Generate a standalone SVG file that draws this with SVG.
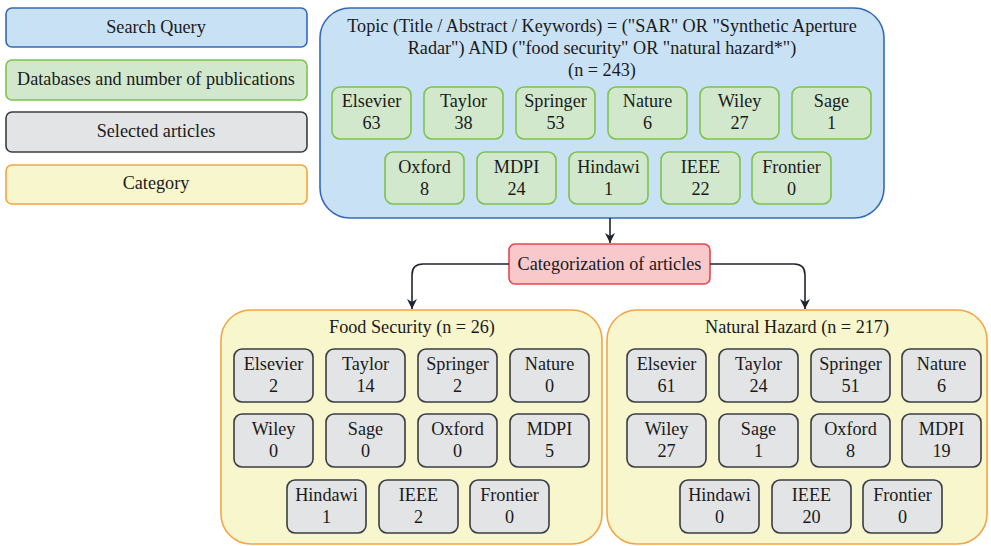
<svg xmlns="http://www.w3.org/2000/svg" width="991" height="546" viewBox="0 0 991 546">
<style>
text{font-family:'Liberation Serif','Times New Roman',serif;fill:#1a1a1a;text-anchor:middle;font-size:18.2px}
.q{fill:#c9e1f5;stroke:#3569b8;stroke-width:1.6}
.db{fill:#d2e8cd;stroke:#7ec24e;stroke-width:1.6}
.sel{fill:#e3e4e6;stroke:#3a3c41;stroke-width:1.6}
.cat{fill:#f8f6cd;stroke:#f4a443;stroke-width:1.6}
.red{fill:#f9c8ca;stroke:#e6464d;stroke-width:1.6}
.conn{fill:none;stroke:#1f2330;stroke-width:1.6}
</style>
<defs>
<marker id="arr" viewBox="0 0 10 10" refX="10" refY="5" markerWidth="10" markerHeight="10" orient="auto" markerUnits="userSpaceOnUse">
<path d="M0,0 L10,5 L0,10 L3,5 z" fill="#1f2330"/>
</marker>
</defs>
<rect width="991" height="546" fill="#ffffff"/>

<g id="legend">
<g id="legend-search"><rect class="q" x="6" y="8" width="301" height="39" rx="6"/><text x="156" y="33">Search Query</text></g>
<g id="legend-db"><rect class="db" x="6" y="60" width="301" height="40" rx="6"/><text x="156" y="85">Databases and number of publications</text></g>
<g id="legend-selected"><rect class="sel" x="6" y="112" width="301" height="40" rx="6"/><text x="156" y="137">Selected articles</text></g>
<g id="legend-category"><rect class="cat" x="6" y="165" width="301" height="39" rx="6"/><text x="156" y="189">Category</text></g>
</g>

<g id="search-query">
<rect class="q" x="320" y="8" width="564" height="210" rx="30"/>
<text x="602" y="32">Topic (Title / Abstract / Keywords) = ("SAR" OR "Synthetic Aperture</text>
<text x="602" y="54">Radar") AND ("food security" OR "natural hazard*")</text>
<text x="602" y="76">(n = 243)</text>
</g>

<g id="db-elsevier"><rect class="db" x="332" y="87" width="79" height="52" rx="8"/><text x="371.5" y="107">Elsevier</text><text x="371.5" y="129">63</text></g>
<g id="db-taylor"><rect class="db" x="424" y="87" width="79" height="52" rx="8"/><text x="463.5" y="107">Taylor</text><text x="463.5" y="129">38</text></g>
<g id="db-springer"><rect class="db" x="516" y="87" width="79" height="52" rx="8"/><text x="555.5" y="107">Springer</text><text x="555.5" y="129">53</text></g>
<g id="db-nature"><rect class="db" x="608" y="87" width="79" height="52" rx="8"/><text x="647.5" y="107">Nature</text><text x="647.5" y="129">6</text></g>
<g id="db-wiley"><rect class="db" x="700" y="87" width="79" height="52" rx="8"/><text x="739.5" y="107">Wiley</text><text x="739.5" y="129">27</text></g>
<g id="db-sage"><rect class="db" x="792" y="87" width="79" height="52" rx="8"/><text x="831.5" y="107">Sage</text><text x="831.5" y="129">1</text></g>
<g id="db-oxford"><rect class="db" x="385" y="152" width="79" height="52" rx="8"/><text x="424.5" y="173">Oxford</text><text x="424.5" y="195">8</text></g>
<g id="db-mdpi"><rect class="db" x="477" y="152" width="79" height="52" rx="8"/><text x="516.5" y="173">MDPI</text><text x="516.5" y="195">24</text></g>
<g id="db-hindawi"><rect class="db" x="569" y="152" width="79" height="52" rx="8"/><text x="608.5" y="173">Hindawi</text><text x="608.5" y="195">1</text></g>
<g id="db-ieee"><rect class="db" x="661" y="152" width="79" height="52" rx="8"/><text x="700.5" y="173">IEEE</text><text x="700.5" y="195">22</text></g>
<g id="db-frontier"><rect class="db" x="752" y="152" width="79" height="52" rx="8"/><text x="791.5" y="173">Frontier</text><text x="791.5" y="195">0</text></g>

<g id="categorization">
<rect class="red" x="509" y="244" width="201" height="40" rx="6"/>
<text x="609.5" y="270">Categorization of articles</text>
</g>

<g id="food-security">
<rect class="cat" x="221" y="310" width="381" height="234" rx="30"/>
<text x="412" y="333">Food Security (n = 26)</text>
</g>
<g id="fs-elsevier"><rect class="sel" x="234" y="349" width="79" height="53" rx="8"/><text x="273.5" y="370">Elsevier</text><text x="273.5" y="392">2</text></g>
<g id="fs-taylor"><rect class="sel" x="326" y="349" width="79" height="53" rx="8"/><text x="365.5" y="370">Taylor</text><text x="365.5" y="392">14</text></g>
<g id="fs-springer"><rect class="sel" x="418" y="349" width="79" height="53" rx="8"/><text x="457.5" y="370">Springer</text><text x="457.5" y="392">2</text></g>
<g id="fs-nature"><rect class="sel" x="510" y="349" width="79" height="53" rx="8"/><text x="549.5" y="370">Nature</text><text x="549.5" y="392">0</text></g>
<g id="fs-wiley"><rect class="sel" x="234" y="414" width="79" height="53" rx="8"/><text x="273.5" y="435">Wiley</text><text x="273.5" y="457">0</text></g>
<g id="fs-sage"><rect class="sel" x="326" y="414" width="79" height="53" rx="8"/><text x="365.5" y="435">Sage</text><text x="365.5" y="457">0</text></g>
<g id="fs-oxford"><rect class="sel" x="418" y="414" width="79" height="53" rx="8"/><text x="457.5" y="435">Oxford</text><text x="457.5" y="457">0</text></g>
<g id="fs-mdpi"><rect class="sel" x="510" y="414" width="79" height="53" rx="8"/><text x="549.5" y="435">MDPI</text><text x="549.5" y="457">5</text></g>
<g id="fs-hindawi"><rect class="sel" x="287" y="480" width="79" height="53" rx="8"/><text x="326.5" y="501">Hindawi</text><text x="326.5" y="523">1</text></g>
<g id="fs-ieee"><rect class="sel" x="379" y="480" width="79" height="53" rx="8"/><text x="418.5" y="501">IEEE</text><text x="418.5" y="523">2</text></g>
<g id="fs-frontier"><rect class="sel" x="470" y="480" width="79" height="53" rx="8"/><text x="509.5" y="501">Frontier</text><text x="509.5" y="523">0</text></g>

<g id="natural-hazard">
<rect class="cat" x="607" y="310" width="380" height="234" rx="30"/>
<text x="797" y="333">Natural Hazard (n = 217)</text>
</g>
<g id="nh-elsevier"><rect class="sel" x="627" y="349" width="79" height="53" rx="8"/><text x="666.5" y="370">Elsevier</text><text x="666.5" y="392">61</text></g>
<g id="nh-taylor"><rect class="sel" x="719" y="349" width="79" height="53" rx="8"/><text x="758.5" y="370">Taylor</text><text x="758.5" y="392">24</text></g>
<g id="nh-springer"><rect class="sel" x="811" y="349" width="79" height="53" rx="8"/><text x="850.5" y="370">Springer</text><text x="850.5" y="392">51</text></g>
<g id="nh-nature"><rect class="sel" x="902" y="349" width="79" height="53" rx="8"/><text x="941.5" y="370">Nature</text><text x="941.5" y="392">6</text></g>
<g id="nh-wiley"><rect class="sel" x="627" y="414" width="79" height="53" rx="8"/><text x="666.5" y="435">Wiley</text><text x="666.5" y="457">27</text></g>
<g id="nh-sage"><rect class="sel" x="719" y="414" width="79" height="53" rx="8"/><text x="758.5" y="435">Sage</text><text x="758.5" y="457">1</text></g>
<g id="nh-oxford"><rect class="sel" x="811" y="414" width="79" height="53" rx="8"/><text x="850.5" y="435">Oxford</text><text x="850.5" y="457">8</text></g>
<g id="nh-mdpi"><rect class="sel" x="902" y="414" width="79" height="53" rx="8"/><text x="941.5" y="435">MDPI</text><text x="941.5" y="457">19</text></g>
<g id="nh-hindawi"><rect class="sel" x="680" y="480" width="79" height="53" rx="8"/><text x="719.5" y="501">Hindawi</text><text x="719.5" y="523">0</text></g>
<g id="nh-ieee"><rect class="sel" x="772" y="480" width="79" height="53" rx="8"/><text x="811.5" y="501">IEEE</text><text x="811.5" y="523">20</text></g>
<g id="nh-frontier"><rect class="sel" x="863" y="480" width="79" height="53" rx="8"/><text x="902.5" y="501">Frontier</text><text x="902.5" y="523">0</text></g>

<g id="connectors">
<path class="conn" d="M610,218 V243" marker-end="url(#arr)"/>
<path class="conn" d="M509,264 H423 Q412,264 412,275 V309" marker-end="url(#arr)"/>
<path class="conn" d="M710,264 H794 Q805,264 805,275 V309" marker-end="url(#arr)"/>
</g>
</svg>
